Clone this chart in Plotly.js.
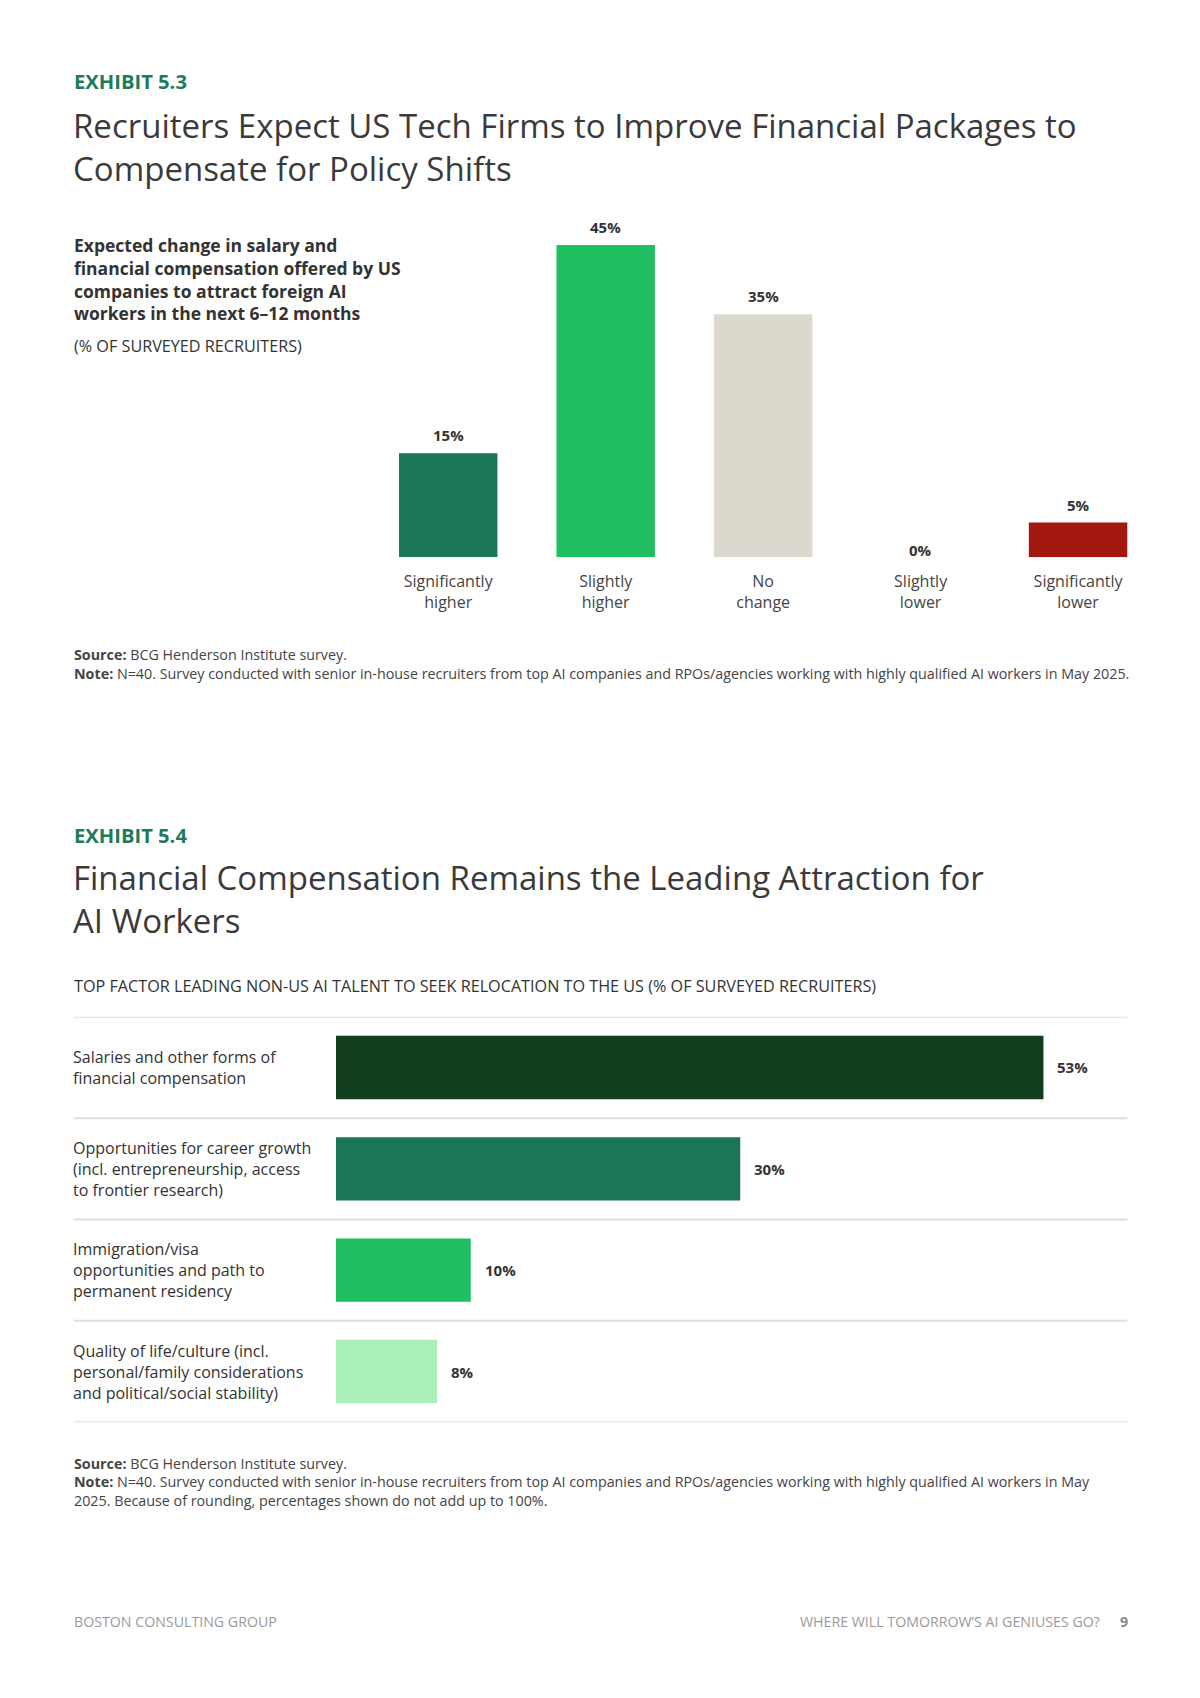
<!DOCTYPE html>
<html>
<head>
<meta charset="utf-8">
<script src="https://cdn.plot.ly/plotly-3.0.1.min.js"></script>
<style>
html,body{margin:0;padding:0;background:#fff;}
#chart{width:1200px;height:1698px;}
</style>
</head>
<body>
<div id="chart"></div>
<script>
// ---------- DATA ----------
const changeCategories = ['Significantly<br>higher', 'Slightly<br>higher', 'No<br>change', 'Slightly<br>lower', 'Significantly<br>lower'];
const changeValues = [15, 45, 35, 0, 5];
const changeLabels = ['15%', '45%', '35%', '0%', '5%'];
const changeColors = ['#1B7656', '#21BF61', '#DDD8CE', '#DDD8CE', '#A2170F'];

const factorCategories = [
  'Salaries and other forms of<br>financial compensation',
  'Opportunities for career growth<br>(incl. entrepreneurship, access<br>to frontier research)',
  'Immigration/visa<br>opportunities and path to<br>permanent residency',
  'Quality of life/culture (incl.<br>personal/family considerations<br>and political/social stability)'
];
const factorValues = [52.5, 30, 10, 7.5];
const factorLabels = ['53%', '30%', '10%', '8%'];
const factorColors = ['#0F3F1F', '#1B7656', '#21BF61', '#A8EFB8'];

// ---------- HELPERS ----------
const W = 1200, H = 1698;
const FONT = 'Open Sans, sans-serif';
const px = x => x / W;
const py = y => 1 - y / H;
const annotations = [];
function textAt(text, x, y, size, color, opts) {
  annotations.push(Object.assign({
    text: text, xref: 'paper', yref: 'paper', x: px(x), y: py(y),
    xanchor: 'left', yanchor: 'middle', showarrow: false, align: 'left',
    font: {family: FONT, size: size, color: color}
  }, opts || {}));
}
function linesAt(lines, x, y0, dy, size, color, opts) {
  lines.forEach((l, i) => textAt(l, x, y0 + i * dy, size, color, opts));
}

// ---------- TEXT ----------
textAt('<b>EXHIBIT 5.3</b>', 72, 81.3, 20.2, '#1E7B5A');
linesAt(['Recruiters Expect US Tech Firms to Improve Financial Packages to', 'Compensate for Policy Shifts'], 71, 125.7, 42.3, 33, '#3a3a3a');
linesAt(['<b>Expected change in salary and</b>', '<b>financial compensation offered by US</b>', '<b>companies to attract foreign AI</b>', '<b>workers in the next 6–12 months</b>'], 72, 245, 22.8, 17.5, '#333');
textAt('(% OF SURVEYED RECRUITERS)', 72, 345.8, 16.2, '#333');
textAt('<b>Source:</b> BCG Henderson Institute survey.', 72, 654.7, 14.3, '#444');
textAt('<b>Note:</b> N=40. Survey conducted with senior in-house recruiters from top AI companies and RPOs/agencies working with highly qualified AI workers in May 2025.', 72, 673.2, 14.3, '#444');

textAt('<b>EXHIBIT 5.4</b>', 72, 834.7, 20.2, '#1E7B5A');
linesAt(['Financial Compensation Remains the Leading Attraction for', 'AI Workers'], 71, 877, 43.3, 33, '#3a3a3a');
textAt('TOP FACTOR LEADING NON-US AI TALENT TO SEEK RELOCATION TO THE US (% OF SURVEYED RECRUITERS)', 72, 986.4, 16.2, '#333');
textAt('<b>Source:</b> BCG Henderson Institute survey.', 72, 1463.4, 14.3, '#444');
linesAt(['<b>Note:</b> N=40. Survey conducted with senior in-house recruiters from top AI companies and RPOs/agencies working with highly qualified AI workers in May', '2025. Because of rounding, percentages shown do not add up to 100%.'], 72, 1481.8, 18.5, 14.3, '#444');

textAt('BOSTON CONSULTING GROUP', 72, 1621.7, 14.2, '#9a9a9a');
textAt('WHERE WILL TOMORROW’S AI GENIUSES GO?', 1102, 1621.7, 14.2, '#9a9a9a', {xanchor: 'right'});
textAt('<b>9</b>', 1130, 1621.7, 14.2, '#8a8a8a', {xanchor: 'right'});

// value labels chart 1
changeCategories.forEach((c, i) => {
  annotations.push({
    text: '<b>' + changeLabels[i] + '</b>', xref: 'x', yref: 'y', x: c, y: changeValues[i],
    xanchor: 'center', yanchor: 'bottom', yshift: changeValues[i] === 0 ? -5 : 6, showarrow: false,
    font: {family: FONT, size: 15, color: '#333'}
  });
});
// row labels + value labels chart 2
factorCategories.forEach((c, i) => {
  const lines = c.split('<br>');
  const lh = 21;
  lines.forEach((l, j) => {
    annotations.push({
      text: l, xref: 'paper', yref: 'y2', x: px(71), y: c,
      xanchor: 'left', yanchor: 'middle', yshift: ((lines.length - 1) / 2 - j) * lh,
      showarrow: false, align: 'left',
      font: {family: FONT, size: 16, color: '#333'}
    });
  });
  annotations.push({
    text: '<b>' + factorLabels[i] + '</b>', xref: 'x2', yref: 'y2', x: factorValues[i], y: c,
    xanchor: 'left', yanchor: 'middle', xshift: 12, showarrow: false,
    font: {family: FONT, size: 15, color: '#333'}
  });
});

// separators chart 2 (category boundaries)
const shapes = [];
for (let i = 0; i <= factorCategories.length; i++) {
  shapes.push({
    type: 'line', xref: 'paper', yref: 'y2', x0: px(73.7), x1: px(1127.4), y0: i - 0.5, y1: i - 0.5,
    line: {color: '#E2DED8', width: 2}
  });
}

// ---------- TRACES ----------
const traces = [
  {
    type: 'bar', x: changeCategories, y: changeValues, xaxis: 'x', yaxis: 'y',
    marker: {color: changeColors}, hoverinfo: 'skip', showlegend: false
  },
  {
    type: 'bar', orientation: 'h', x: factorValues, y: factorCategories, xaxis: 'x2', yaxis: 'y2',
    marker: {color: factorColors}, hoverinfo: 'skip', showlegend: false
  }
];

const layout = {
  width: W, height: H,
  margin: {l: 0, r: 0, t: 0, b: 0},
  paper_bgcolor: '#fff', plot_bgcolor: 'rgba(0,0,0,0)',
  bargap: 0.375,
  font: {family: FONT},
  xaxis: {
    domain: [px(369.5), px(1156.8)], type: 'category', showline: false, showgrid: false, zeroline: false,
    ticks: '', ticklabelstandoff: 13, tickfont: {family: FONT, size: 16, color: '#444'}, fixedrange: true
  },
  yaxis: {
    domain: [py(557.2), py(210.3)], range: [0, 50], visible: false, fixedrange: true
  },
  xaxis2: {
    domain: [px(336), px(1144.5)], range: [0, 60], visible: false, fixedrange: true, anchor: 'y2'
  },
  yaxis2: {
    domain: [py(1422.2), py(1016.8)], type: 'category', range: [3.5, -0.5], visible: false, fixedrange: true, anchor: 'x2'
  },
  annotations: annotations,
  shapes: shapes
};

Plotly.newPlot('chart', traces, layout, {staticPlot: true, displayModeBar: false});
</script>
</body>
</html>
